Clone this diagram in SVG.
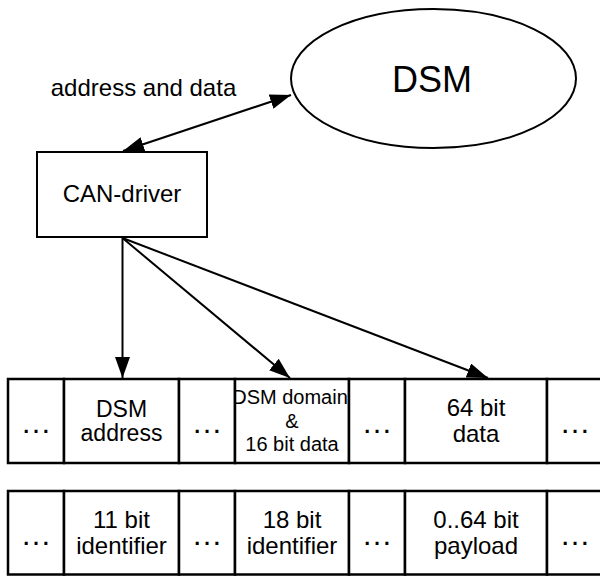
<svg xmlns="http://www.w3.org/2000/svg" width="600" height="576" viewBox="0 0 600 576">
  <defs>
    <style>
      text { font-family: "Liberation Sans", Arial, sans-serif; fill: #000; text-anchor: middle; }
      .shape { fill: #fff; stroke: #000; stroke-width: 2; }
      .cell { fill: #fff; stroke: #000; stroke-width: 2.5; }
      .edge { fill: none; stroke: #000; stroke-width: 2; }
      .t24 { font-size: 24px; }
      .t23 { font-size: 23px; }
      .t20 { font-size: 20px; }
      .dots { font-size: 31px; }
    </style>
    <marker id="head" markerUnits="userSpaceOnUse" markerWidth="21" markerHeight="15" refX="21" refY="7.5" orient="auto-start-reverse">
      <path d="M0,0 L21,7.5 L0,15 z" fill="#000"/>
    </marker>
    <clipPath id="dsmDomainClip">
      <rect x="235" y="379" width="114" height="84"/>
    </clipPath>
  </defs>

  <rect width="600" height="576" fill="#fff"/>

  <!-- connectors -->
  <g id="connectors">
    <line class="edge" x1="123" y1="151" x2="291" y2="95" marker-start="url(#head)" marker-end="url(#head)"/>
    <line class="edge" x1="122.5" y1="238" x2="122.5" y2="378" marker-end="url(#head)"/>
    <line class="edge" x1="122.5" y1="238" x2="290" y2="378" marker-end="url(#head)"/>
    <line class="edge" x1="122.5" y1="238" x2="488" y2="378" marker-end="url(#head)"/>
    <text class="t24" x="143.5" y="96">address and data</text>
  </g>

  <!-- shared memory -->
  <g id="dsm">
    <ellipse class="shape" cx="433.5" cy="78.5" rx="142.5" ry="69.5"/>
    <text x="432" y="92" style="font-size:36px">DSM</text>
  </g>

  <!-- bus driver -->
  <g id="can-driver">
    <rect class="shape" x="37" y="152" width="170" height="85"/>
    <text class="t24" x="122" y="202">CAN-driver</text>
  </g>

  <!-- upper frame: DSM view -->
  <g id="dsm-frame">
    <g id="dsm-gap-1">
      <rect class="cell" x="8" y="379" width="56" height="84"/>
      <text class="dots" x="36" y="433">…</text>
    </g>
    <g id="dsm-address">
      <rect class="cell" x="64" y="379" width="115" height="84"/>
      <text class="t23" x="121.5" y="417">DSM</text>
      <text class="t23" x="121.5" y="441">address</text>
    </g>
    <g id="dsm-gap-2">
      <rect class="cell" x="179" y="379" width="56" height="84"/>
      <text class="dots" x="207" y="433">…</text>
    </g>
    <g id="dsm-domain-data">
      <rect class="cell" x="235" y="379" width="114" height="84"/>
      <g clip-path="url(#dsmDomainClip)">
        <text class="t20" x="290" y="404">DSM domain</text>
        <text class="t20" x="292" y="428">&amp;</text>
        <text class="t20" x="292" y="451">16 bit data</text>
      </g>
    </g>
    <g id="dsm-gap-3">
      <rect class="cell" x="349" y="379" width="56" height="84"/>
      <text class="dots" x="377" y="433">…</text>
    </g>
    <g id="dsm-data">
      <rect class="cell" x="405" y="379" width="142" height="84"/>
      <text class="t24" x="476" y="416">64 bit</text>
      <text class="t24" x="476" y="442">data</text>
    </g>
    <g id="dsm-gap-4">
      <rect class="cell" x="547" y="379" width="56" height="84"/>
      <text class="dots" x="575" y="433">…</text>
    </g>
  </g>

  <!-- lower frame: CAN view -->
  <g id="can-frame">
    <g id="can-gap-1">
      <rect class="cell" x="8" y="491" width="56" height="83.5"/>
      <text class="dots" x="36" y="545">…</text>
    </g>
    <g id="can-id-11">
      <rect class="cell" x="64" y="491" width="115" height="83.5"/>
      <text class="t24" x="121.5" y="528">11 bit</text>
      <text class="t24" x="121.5" y="554">identifier</text>
    </g>
    <g id="can-gap-2">
      <rect class="cell" x="179" y="491" width="56" height="83.5"/>
      <text class="dots" x="207" y="545">…</text>
    </g>
    <g id="can-id-18">
      <rect class="cell" x="235" y="491" width="114" height="83.5"/>
      <text class="t24" x="292" y="528">18 bit</text>
      <text class="t24" x="292" y="554">identifier</text>
    </g>
    <g id="can-gap-3">
      <rect class="cell" x="349" y="491" width="56" height="83.5"/>
      <text class="dots" x="377" y="545">…</text>
    </g>
    <g id="can-payload">
      <rect class="cell" x="405" y="491" width="142" height="83.5"/>
      <text class="t24" x="476" y="528">0..64 bit</text>
      <text class="t24" x="476" y="554">payload</text>
    </g>
    <g id="can-gap-4">
      <rect class="cell" x="547" y="491" width="56" height="83.5"/>
      <text class="dots" x="575" y="545">…</text>
    </g>
  </g>
</svg>
